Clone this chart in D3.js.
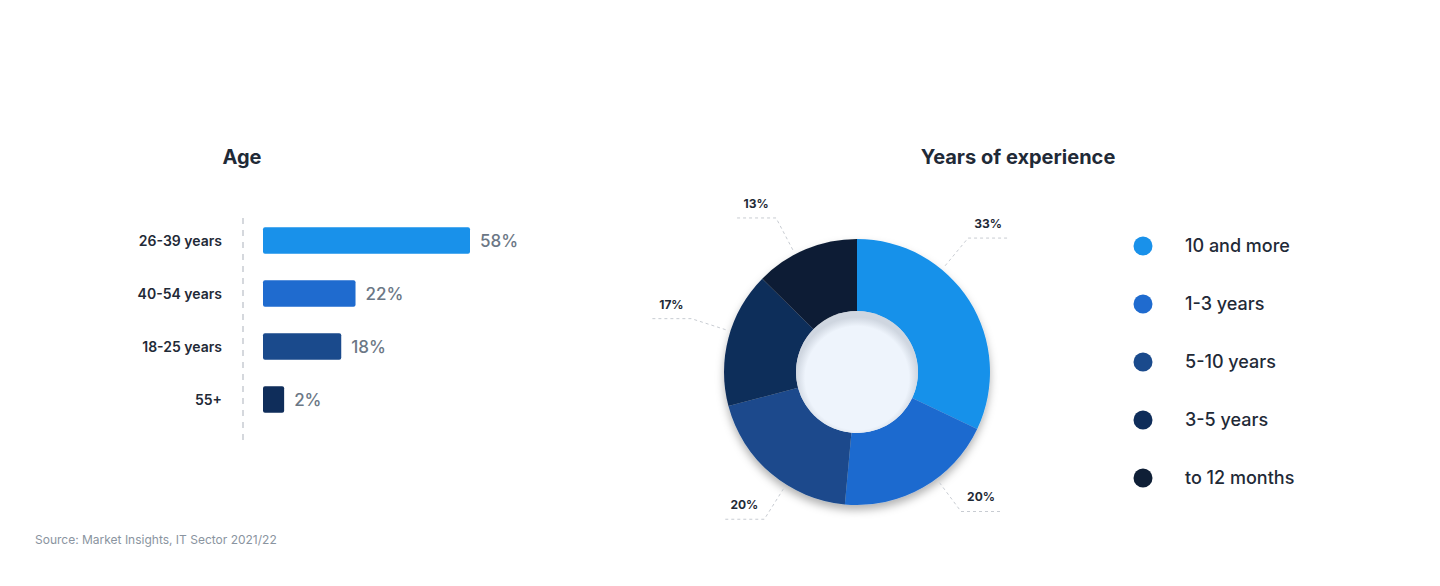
<!DOCTYPE html>
<html><head><meta charset="utf-8">
<script src="https://cdn.jsdelivr.net/npm/d3@7"></script>
<style>body{margin:0;background:#fff;font-family:Inter,"Noto Sans",sans-serif}</style>
</head><body><svg id="c" width="1440" height="586"></svg>
<script>
const ageCats=["26-39 years","40-54 years","18-25 years","55+"];
const ageVals=[58,22,18,2];
const ageColors=["#1991ea","#1f6bcf","#1a4a8c","#0f2d5a"];
const expCats=["10 and more","1-3 years","5-10 years","3-5 years","to 12 months"];
const expVals=[33,20,20,17,13];
const expColors=["#1991ea","#1f6bcf","#1a4a8c","#0f2d5a","#0f1f36"];

const svg=d3.select("#c");
const defs=svg.append("defs");
const f=defs.append("filter").attr("id","sh").attr("x","-20%").attr("y","-20%").attr("width","140%").attr("height","150%");
f.append("feDropShadow").attr("dx",0).attr("dy",5).attr("stdDeviation",4).attr("flood-color","#000").attr("flood-opacity",0.3);
const g2=defs.append("radialGradient").attr("id","hole").attr("cx","50%").attr("cy","55%").attr("r","50%");
g2.append("stop").attr("offset","85%").attr("stop-color","#eef4fc");
g2.append("stop").attr("offset","100%").attr("stop-color","#cfd6e0");

// Bar chart
svg.append("text").attr("x",242).attr("y",164).attr("text-anchor","middle").attr("font-size",20).attr("font-weight",700).attr("fill","#1f2a37").text("Age");
const x=d3.scaleLinear().domain([0,58]).range([0,207]);
const y=d3.scaleBand().domain(ageCats).range([214,426]).paddingInner(0.5).paddingOuter(0.25);
svg.append("line").attr("x1",243).attr("x2",243).attr("y1",218).attr("y2",443).attr("stroke","#c8ccd2").attr("stroke-width",1.5).attr("stroke-dasharray","6,6");
const bg=svg.append("g");
bg.selectAll("rect").data(ageVals).join("rect")
 .attr("x",263).attr("y",(d,i)=>y(ageCats[i])).attr("height",y.bandwidth())
 .attr("width",d=>Math.max(10,x(d)+(d<58?14:0))).attr("rx",2).attr("fill",(d,i)=>ageColors[i]);
bg.selectAll("text.v").data(ageVals).join("text").attr("class","v")
 .attr("x",d=>263+Math.max(10,x(d)+(d<58?14:0))+10).attr("y",(d,i)=>y(ageCats[i])+y.bandwidth()/2+6)
 .attr("font-size",17).attr("font-weight",500).attr("fill","#6b7785").text(d=>d+"%");
bg.selectAll("text.c").data(ageCats).join("text").attr("class","c")
 .attr("x",222).attr("y",d=>y(d)+y.bandwidth()/2+5).attr("text-anchor","end")
 .attr("font-size",14).attr("font-weight",600).attr("fill","#1f2a37").text(d=>d);

// Donut
svg.append("text").attr("x",1018).attr("y",164).attr("text-anchor","middle").attr("font-size",20).attr("font-weight",700).attr("fill","#1f2a37").text("Years of experience");
const cx=857,cy=372,R=133,r0=61;
const pie=d3.pie().sort(null)(expVals);
const arc=d3.arc().innerRadius(r0).outerRadius(R);
const dg=svg.append("g").attr("transform",`translate(${cx},${cy})`);
dg.append("g").attr("filter","url(#sh)").selectAll("path").data(pie).join("path").attr("d",arc).attr("fill",(d,i)=>expColors[i]);
dg.append("circle").attr("r",r0).attr("fill","url(#hole)");
const offs=[-18,-7,-8,3,-5];
pie.forEach((d,i)=>{
  const a=(d.startAngle+d.endAngle)/2+offs[i]*Math.PI/180;
  const p1=[Math.sin(a)*138,-Math.cos(a)*138], p2=[Math.sin(a)*174,-Math.cos(a)*174];
  const right=Math.sin(a)>0, p3=[p2[0]+(right?40:-40),p2[1]];
  dg.append("path").attr("d",d3.line()([p1,p2,p3])).attr("fill","none").attr("stroke","#c8ccd2").attr("stroke-dasharray","3,3");
  dg.append("text").attr("x",(p2[0]+p3[0])/2).attr("y",p2[1]-10).attr("text-anchor","middle")
   .attr("font-size",12).attr("font-weight",700).attr("fill","#1f2a37").text(expVals[i]+"%");
});

// Legend
const lg=svg.append("g");
expCats.forEach((c,i)=>{
  const yy=246+i*58;
  lg.append("circle").attr("cx",1143).attr("cy",yy).attr("r",9.5).attr("fill",expColors[i]);
  lg.append("text").attr("x",1185).attr("y",yy+6).attr("font-size",18).attr("font-weight",500).attr("fill","#1f2a37").text(c);
});

svg.append("text").attr("x",35).attr("y",544).attr("font-size",12).attr("fill","#8a94a0").text("Source: Market Insights, IT Sector 2021/22");
</script></body></html>
